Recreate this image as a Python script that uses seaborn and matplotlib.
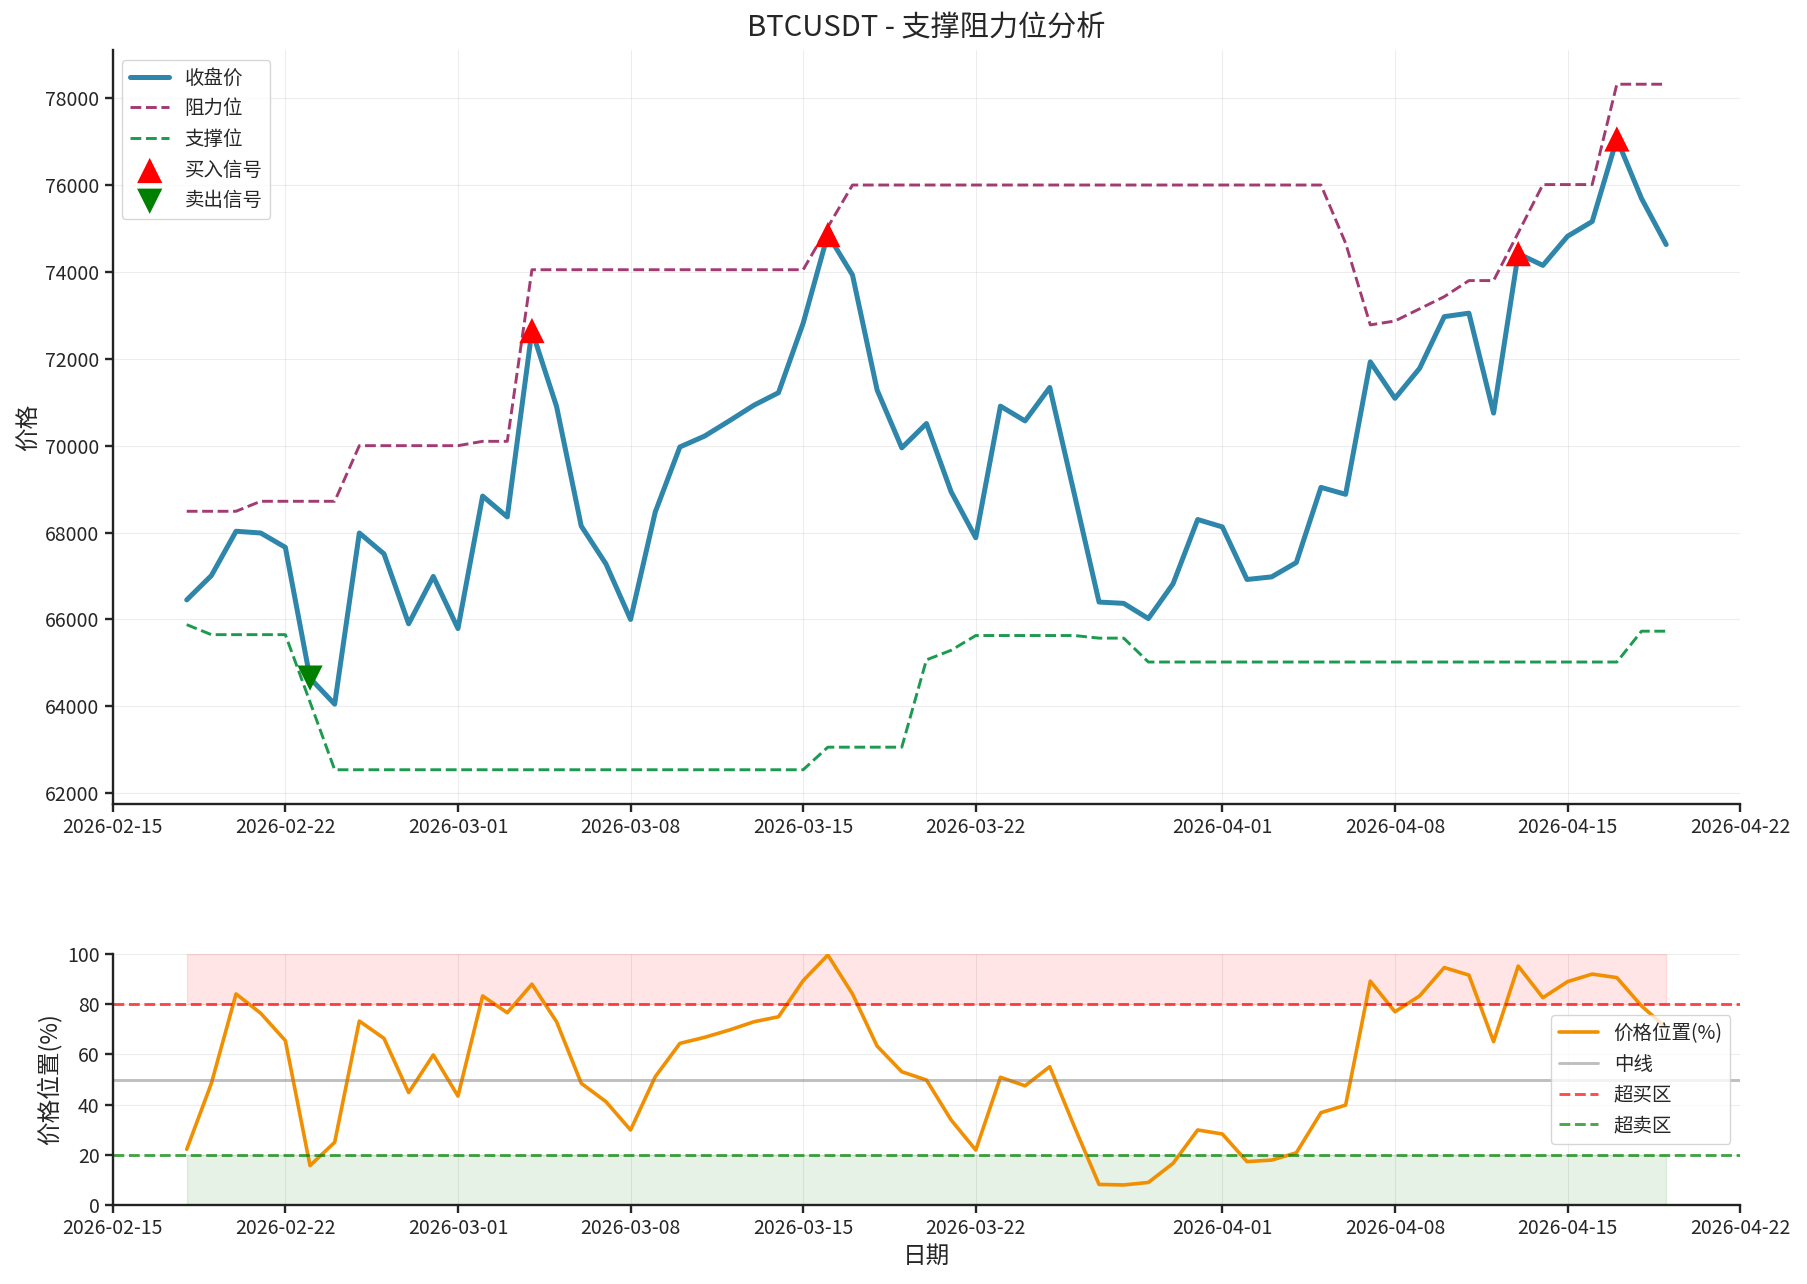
import numpy as np
import pandas as pd
import matplotlib
matplotlib.use("Agg")
import matplotlib.pyplot as plt
import matplotlib.dates as mdates
import seaborn as sns

# ---------------- data ----------------
start_date = "2026-02-18"
end_date = "2026-04-19"

close_price = [
    66450, 67010, 68030, 67990, 67660, 64650, 64050, 67990, 67510, 65900, 66990,  # Feb 18-28
    65790, 68840, 68360, 72650, 70900, 68150, 67280, 66000, 68470, 69970,         # Mar 1-10
    70220, 70570, 70930, 71220, 72820, 74860, 73930, 71280, 69950, 70510,         # Mar 11-20
    68940, 67880, 70910, 70570, 71340, 68880, 66400, 66370, 66020, 66820, 68300,  # Mar 21-31
    68130, 66920, 66980, 67310, 69040, 68880, 71930, 71090, 71780, 72970,         # Apr 1-10
    73050, 70750, 74420, 74150, 74820, 75160, 77060, 75690, 74630,                # Apr 11-19
]

resistance = [
    68490, 68490, 68490, 68720, 68720, 68720, 68720, 70000, 70000, 70000, 70000,  # Feb 18-28
    70000, 70100, 70100, 74050, 74050, 74050, 74050, 74050, 74050, 74050,         # Mar 1-10
    74050, 74050, 74050, 74050, 74050, 75030, 76000, 76000, 76000, 76000,         # Mar 11-20
    76000, 76000, 76000, 76000, 76000, 76000, 76000, 76000, 76000, 76000, 76000,  # Mar 21-31
    76000, 76000, 76000, 76000, 76000, 74660, 72780, 72870, 73150, 73430,         # Apr 1-10
    73800, 73800, 74900, 76010, 76010, 76010, 78320, 78320, 78320,                # Apr 11-19
]

support = [
    65880, 65650, 65650, 65650, 65650, 64100, 62540, 62540, 62540, 62540, 62540,  # Feb 18-28
    62540, 62540, 62540, 62540, 62540, 62540, 62540, 62540, 62540, 62540,         # Mar 1-10
    62540, 62540, 62540, 62540, 62540, 63060, 63060, 63060, 63060, 65070,         # Mar 11-20
    65290, 65630, 65630, 65630, 65630, 65630, 65570, 65570, 65020, 65020, 65020,  # Mar 21-31
    65020, 65020, 65020, 65020, 65020, 65020, 65020, 65020, 65020, 65020,         # Apr 1-10
    65020, 65020, 65020, 65020, 65020, 65020, 65020, 65730, 65730,                # Apr 11-19
]

position_pct = [
    22.2, 48.5, 84.1, 76.4, 65.5, 15.7, 25.0, 73.3, 66.4, 44.8, 59.8,  # Feb 18-28
    43.4, 83.3, 76.6, 88.0, 73.0, 48.5, 41.2, 29.9, 51.1, 64.4,        # Mar 1-10
    66.8, 69.7, 73.0, 75.0, 89.4, 99.6, 84.1, 63.3, 53.1, 49.8,        # Mar 11-20
    33.9, 21.9, 50.9, 47.5, 55.1, 31.2, 8.2, 8.0, 9.0, 16.6, 29.9,     # Mar 21-31
    28.3, 17.3, 17.9, 20.8, 36.8, 39.8, 89.2, 77.0, 83.3, 94.6,        # Apr 1-10
    91.6, 65.1, 95.2, 82.6, 89.0, 92.0, 90.6, 79.3, 70.7,              # Apr 11-19
]

buy_dates = ["2026-03-04", "2026-03-16", "2026-04-13", "2026-04-17"]
buy_prices = [72650, 74860, 74420, 77060]
sell_dates = ["2026-02-23"]
sell_prices = [64650]

overbought_level = 80
oversold_level = 20
mid_level = 50

# ---------------- frames ----------------
dates = pd.date_range(start_date, end_date, freq="D")
df = pd.DataFrame({
    "date": dates,
    "close": close_price,
    "resistance": resistance,
    "support": support,
    "position": position_pct,
})
buy_df = pd.DataFrame({"date": pd.to_datetime(buy_dates), "price": buy_prices})
sell_df = pd.DataFrame({"date": pd.to_datetime(sell_dates), "price": sell_prices})

# ---------------- style ----------------
sns.set_style("ticks")
plt.rcParams["font.family"] = ["Noto Sans CJK SC", "DejaVu Sans"]
plt.rcParams["axes.unicode_minus"] = False
plt.rcParams["axes.linewidth"] = 1.7
plt.rcParams["xtick.major.width"] = 1.7
plt.rcParams["ytick.major.width"] = 1.7
plt.rcParams["xtick.major.size"] = 6
plt.rcParams["ytick.major.size"] = 6
plt.rcParams["axes.edgecolor"] = "#222222"

fig = plt.figure(figsize=(18.07, 12.84), dpi=100)
ax1 = fig.add_axes([0.0624, 0.3738, 0.9006, 0.5873])
ax2 = fig.add_axes([0.0624, 0.0615, 0.9006, 0.1955])

c_close = "#2E86AB"
c_res = "#A23B72"
c_sup = "#1B9A50"
c_pos = "#F18F01"

# ---- top panel ----
sns.lineplot(data=df, x="date", y="close", ax=ax1, color=c_close, linewidth=3.6, label="收盘价")
sns.lineplot(data=df, x="date", y="resistance", ax=ax1, color=c_res, linewidth=2.1,
             linestyle="--", label="阻力位")
sns.lineplot(data=df, x="date", y="support", ax=ax1, color=c_sup, linewidth=2.1,
             linestyle="--", label="支撑位")
sns.scatterplot(data=buy_df, x="date", y="price", ax=ax1, marker="^", color="red",
                s=330, edgecolor="none", label="买入信号", zorder=5)
sns.scatterplot(data=sell_df, x="date", y="price", ax=ax1, marker="v", color="green",
                s=330, edgecolor="none", label="卖出信号", zorder=5)

ax1.set_title("BTCUSDT - 支撑阻力位分析", fontsize=21, pad=10)
ax1.set_xlabel("")
ax1.set_ylabel("价格", fontsize=17)
ax1.grid(True, alpha=0.35)
ax1.legend(loc="upper left", fontsize=14, framealpha=0.8)
sns.despine(ax=ax1)

# ---- bottom panel ----
sns.lineplot(data=df, x="date", y="position", ax=ax2, color=c_pos, linewidth=2.6,
             label="价格位置(%)")
ax2.axhline(mid_level, color="gray", alpha=0.5, linewidth=2.1, label="中线")
ax2.axhline(overbought_level, color="red", linestyle="--", alpha=0.7, linewidth=2.1, label="超买区")
ax2.axhline(oversold_level, color="green", linestyle="--", alpha=0.7, linewidth=2.1, label="超卖区")
ax2.fill_between(df["date"], overbought_level, 100, color="red", alpha=0.1)
ax2.fill_between(df["date"], 0, oversold_level, color="green", alpha=0.1)
ax2.set_ylim(0, 100)
ax2.set_xlabel("日期", fontsize=17)
ax2.set_ylabel("价格位置(%)", fontsize=17)
ax2.grid(True, alpha=0.35)
ax2.legend(loc="center right", fontsize=14, framealpha=0.8)
sns.despine(ax=ax2)

for ax in (ax1, ax2):
    ax.xaxis.set_major_locator(mdates.DayLocator(bymonthday=[1, 8, 15, 22]))
    ax.xaxis.set_major_formatter(mdates.DateFormatter("%Y-%m-%d"))
    ax.tick_params(axis="both", labelsize=14)

fig.savefig("out.png", dpi=100)
